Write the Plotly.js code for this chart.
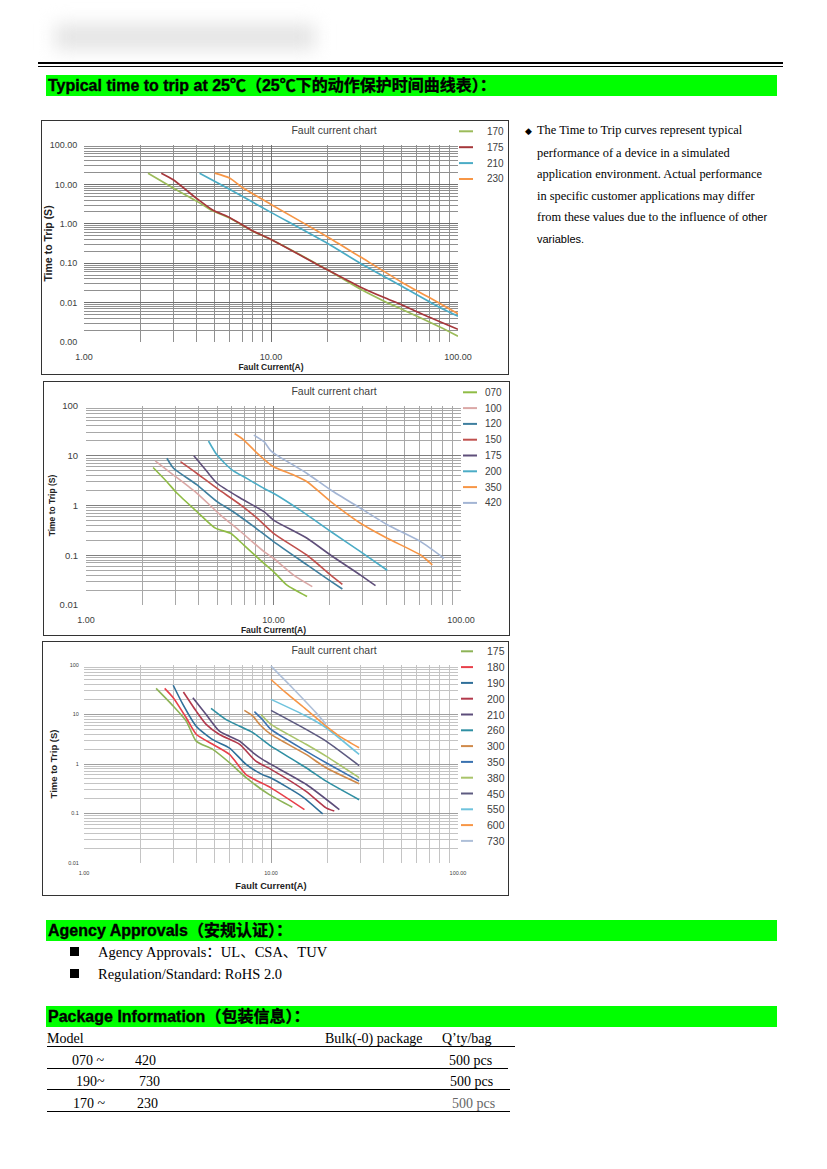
<!DOCTYPE html>
<html>
<head>
<meta charset="utf-8">
<script src="https://cdn.plot.ly/plotly-3.0.1.min.js"></script>
<style>
  body { margin: 0; background: #fff; }
  #page { position: relative; width: 827px; height: 1169px; overflow: hidden; font-family: "Liberation Serif", "Noto Sans CJK SC", serif; color: #000; }
  .abs { position: absolute; white-space: nowrap; }
  .bar { position: absolute; left: 46px; width: 731px; height: 21px; background: #00ff00; font: bold 16px "Liberation Sans", "Noto Sans CJK SC", sans-serif; line-height: 22px; padding-left: 2px; box-sizing: border-box; white-space: nowrap; -webkit-text-stroke: 0.35px #000; }
  .chart { position: absolute; border: 1px solid #333; }
  .rule { position: absolute; background: #000; }
  .note { font-size: 12.4px; line-height: 21.6px; }
  .sans { font-family: "Liberation Sans", sans-serif; font-size: 11px; }
  .sq { position: absolute; width: 9px; height: 9px; background: #000; }
  .tbl { font-size: 14px; line-height: 18px; }
</style>
</head>
<body>
<div id="page">
  <!-- faded header smudge -->
  <div class="abs" style="left:55px;top:24px;width:260px;height:26px;background:#e4e4e4;filter:blur(9px);"></div>
  <div class="rule" style="left:38px;top:62px;width:745px;height:2px;"></div>
  <div class="rule" style="left:38px;top:66px;width:745px;height:1px;"></div>
  <div class="bar" style="top:75px;">Typical time to trip at 25℃（25℃下的动作保护时间曲线表）：</div>

  <div id="c1" class="chart" style="left:41px;top:120px;width:466px;height:253px;"></div>
  <div id="c2" class="chart" style="left:43px;top:381px;width:465px;height:253px;"></div>
  <div id="c3" class="chart" style="left:42px;top:641px;width:465px;height:253px;"></div>

  <div class="abs note" style="left:525px;top:120px;">
    <div><span style="display:inline-block;width:12px;font-size:9px;font-family:'DejaVu Sans'">◆</span>The Time to Trip curves represent typical</div>
    <div style="padding-left:12px">performance of a device in a simulated</div>
    <div style="padding-left:12px">application environment. Actual performance</div>
    <div style="padding-left:12px">in specific customer applications may differ</div>
    <div style="padding-left:12px">from these values due to the influence of <span class="sans">other</span></div>
    <div style="padding-left:12px"><span class="sans">variables.</span></div>
  </div>

  <div class="bar" style="top:920px;">Agency Approvals（安规认证）：</div>
  <div class="sq" style="left:70px;top:947px;"></div>
  <div class="abs" style="left:98px;top:943px;font-size:14.5px;line-height:18px;">Agency Approvals：UL、CSA、TUV</div>
  <div class="sq" style="left:70px;top:969px;"></div>
  <div class="abs" style="left:98px;top:965px;font-size:14.5px;line-height:18px;">Regulation/Standard: RoHS 2.0</div>

  <div class="bar" style="top:1006px;">Package Information（包装信息）：</div>
  <div class="abs tbl" style="left:47px;top:1030px;">Model</div>
  <div class="abs tbl" style="left:325px;top:1030px;">Bulk(-0) package</div>
  <div class="abs tbl" style="left:442px;top:1030px;">Q’ty/bag</div>
  <div class="rule" style="left:47px;top:1046px;width:468px;height:1.3px;"></div>
  <div class="abs tbl" style="left:72px;top:1052px;">070 ~</div>
  <div class="abs tbl" style="left:135px;top:1052px;">420</div>
  <div class="abs tbl" style="left:449px;top:1052px;">500 pcs</div>
  <div class="rule" style="left:47px;top:1068px;width:461px;height:1.3px;"></div>
  <div class="abs tbl" style="left:76px;top:1073px;">190~</div>
  <div class="abs tbl" style="left:139px;top:1073px;">730</div>
  <div class="abs tbl" style="left:450px;top:1073px;">500 pcs</div>
  <div class="rule" style="left:47px;top:1089px;width:463px;height:1.3px;"></div>
  <div class="abs tbl" style="left:73px;top:1095px;">170 ~</div>
  <div class="abs tbl" style="left:137px;top:1095px;">230</div>
  <div class="abs tbl" style="left:452px;top:1095px;color:#666;">500 pcs</div>
  <div class="rule" style="left:47px;top:1111px;width:463px;height:1.3px;"></div>
</div>

<script>
// ---- chart 1 : 170 / 175 / 210 / 230 ----
const c1Names = ['170', '175', '210', '230'];
const c1Colors = ['#9bbb59', '#a5373b', '#4bacc6', '#f79646'];
const c1X = [
  [2.2, 3.0, 4.15, 4.9, 6.0, 8.0, 10, 20, 30, 40, 50, 80, 100],
  [2.59, 3.0, 3.98, 4.9, 6.0, 8.0, 10, 20, 30, 40, 50, 65, 100],
  [4.15, 6.0, 10, 20, 30, 50, 80, 100],
  [5.0, 6.0, 7.1, 10, 20, 30, 50, 80, 100]
];
const c1Y = [
  [19.3, 8.1, 3.4, 2.1, 1.4, 0.65, 0.40, 0.068, 0.022, 0.011, 0.0068, 0.0024, 0.0014],
  [19.3, 13.1, 4.5, 2.2, 1.45, 0.66, 0.40, 0.068, 0.025, 0.0136, 0.0088, 0.005, 0.0021],
  [19.3, 7.5, 1.95, 0.32, 0.1, 0.026, 0.0075, 0.0045],
  [19.3, 14.5, 8.1, 3.1, 0.47, 0.145, 0.033, 0.0095, 0.0052]
];
const c1XTicks = ['1.00', '10.00', '100.00'];
const c1YTicks = ['0.00', '0.01', '0.10', '1.00', '10.00', '100.00'];

// ---- chart 2 : 070 ... 420 ----
const c2Names = ['070', '100', '120', '150', '175', '200', '350', '420'];
const c2Colors = ['#8fbc45', '#dba8a6', '#3f7f9f', '#c0504d', '#5f4f7a', '#4bacc6', '#f79646', '#a3b5d4'];
const c2X = [
  [2.28, 2.7, 3.06, 3.91, 4.9, 5.9, 6.95, 8.5, 10, 11.8, 15.1],
  [2.34, 2.93, 3.91, 5.2, 6.67, 8.9, 10, 12.8, 16.1],
  [2.7, 2.93, 3.91, 5.0, 6.1, 7.86, 10, 15.1, 19.7, 23.3],
  [3.19, 3.91, 5.0, 6.67, 8.2, 10, 15.1, 20.2, 23.3],
  [3.76, 4.42, 5.0, 6.67, 8.9, 10, 15.1, 20.2, 29.1, 35.0],
  [4.5, 5.0, 6.0, 7.2, 8.9, 10, 15.1, 20.2, 29.1, 40.4],
  [6.2, 6.95, 8.2, 10, 12.8, 15.1, 20.2, 29.1, 40.4, 60.9, 70.3],
  [7.85, 8.9, 9.6, 10.4, 15.1, 20.2, 29.1, 40.4, 60.9, 81.2]
];
const c2Y = [
  [5.8, 3.0, 1.76, 0.75, 0.35, 0.276, 0.16, 0.08, 0.047, 0.025, 0.0148],
  [7.85, 4.1, 1.76, 0.65, 0.30, 0.118, 0.087, 0.04, 0.0234],
  [8.9, 5.6, 2.6, 1.2, 0.75, 0.376, 0.188, 0.064, 0.032, 0.021],
  [7.6, 4.4, 2.2, 1.03, 0.55, 0.276, 0.1, 0.04, 0.026],
  [10, 4.8, 2.8, 1.4, 0.75, 0.51, 0.22, 0.1, 0.04, 0.0245],
  [19.8, 10.3, 5.2, 3.5, 2.2, 1.76, 0.65, 0.30, 0.118, 0.05],
  [28, 20.7, 11.2, 6.0, 4.1, 3.0, 1.2, 0.44, 0.22, 0.101, 0.064],
  [26, 19.2, 13, 10.3, 4.4, 2.05, 0.88, 0.41, 0.188, 0.087]
];
const c2XTicks = ['1.00', '10.00', '100.00'];
const c2YTicks = ['0.01', '0.1', '1', '10', '100'];

// ---- chart 3 : 175 ... 730 ----
const c3Names = ['175', '180', '190', '200', '210', '260', '300', '350', '380', '450', '550', '600', '730'];
const c3Colors = ['#8db356', '#e8404a', '#2f6f99', '#b3394c', '#5c4d7a', '#2f8fa3', '#d08a4a', '#3a72b0', '#a9c46a', '#5d5a80', '#6fc3dd', '#f79646', '#aebfd8'];
const c3X = [
  [2.43, 3.0, 3.52, 3.98, 4.88, 6.0, 7.36, 9.8, 13.0],
  [2.7, 3.0, 3.52, 3.98, 4.88, 6.0, 7.36, 10, 15.1],
  [3.0, 3.38, 3.98, 4.88, 6.0, 7.36, 9.0, 10, 14.7, 18.9],
  [3.4, 3.98, 4.5, 5.3, 6.8, 8.3, 10, 15.4, 19.7, 21.8],
  [3.82, 4.5, 5.3, 6.8, 8.0, 9.0, 10, 15.4, 23.2],
  [4.78, 5.75, 6.8, 8.0, 10, 15.4, 19.7, 29.6],
  [7.2, 8.0, 8.7, 10, 15.4, 19.7, 29.6],
  [8.15, 9.0, 10, 15.4, 19.7, 29.6],
  [8.85, 10, 15.4, 19.7, 29.6],
  [10, 15.4, 19.7, 29.6],
  [10, 15.4, 19.7, 29.6],
  [10, 12.0, 15.4, 19.7, 23.2, 29.6],
  [10, 13.0, 17.4, 19.7]
];
const c3Y = [
  [33.7, 14.8, 7.4, 2.9, 1.97, 1.06, 0.53, 0.24, 0.134],
  [33.7, 21.8, 8.6, 4.0, 2.5, 1.56, 0.61, 0.33, 0.12],
  [39, 16, 5.8, 3.1, 2.1, 0.98, 0.61, 0.52, 0.22, 0.098],
  [28.5, 11.7, 6.3, 3.95, 2.5, 1.14, 0.78, 0.28, 0.13, 0.112],
  [21.8, 10, 4.6, 2.9, 1.7, 1.24, 0.98, 0.39, 0.12],
  [13.3, 7.9, 5.8, 4.3, 2.3, 0.84, 0.45, 0.19],
  [12.1, 9.3, 6.3, 3.95, 1.56, 0.84, 0.40],
  [11.4, 7.9, 5.0, 1.82, 1.06, 0.45],
  [10, 6.3, 2.5, 1.44, 0.53],
  [12.1, 5.0, 2.9, 0.93],
  [20.2, 9.3, 5.4, 1.56],
  [51, 27.6, 12.7, 5.8, 3.66, 2.13],
  [95, 34.8, 10.9, 6.3]
];
const c3XTicks = ['1.00', '10.00', '100.00'];
const c3YTicks = ['0.01', '0.1', '1', '10', '100'];

const FONT = '"Liberation Sans", Arial, sans-serif';

function decades(lo, hi) {
  const out = [];
  for (let e = lo; e <= hi; e++) out.push(Math.pow(10, e));
  return out;
}
function minors(lo, hi) {
  const out = [];
  for (let e = lo; e < hi; e++) for (let m = 2; m <= 9; m++) out.push(m * Math.pow(10, e));
  return out;
}

function drawChart(id, d, s) {
  const plotW = s.w - s.m.l - s.m.r;
  const plotH = s.h - s.m.t - s.m.b;
  const traces = d.names.map((n, i) => ({
    x: d.xs[i], y: d.ys[i], name: n, type: 'scatter', mode: 'lines',
    line: { color: d.colors[i], width: s.lw, shape: 'spline', smoothing: 0.6 },
    hoverinfo: 'skip'
  }));

  // legend by hand: plotly's own rows are too tall for 13 entries
  const shapes = [];
  const annotations = [];
  d.names.forEach((n, i) => {
    const yp = 1 - (s.leg.y0 + s.leg.step * i - s.m.t) / plotH;
    shapes.push({
      type: 'line', xref: 'paper', yref: 'paper',
      x0: (s.leg.x0 - s.m.l) / plotW, x1: (s.leg.x1 - s.m.l) / plotW, y0: yp, y1: yp,
      line: { color: d.colors[i], width: 2 }
    });
    annotations.push({
      xref: 'paper', yref: 'paper', x: (s.leg.tx - s.m.l) / plotW, y: yp,
      xanchor: 'left', yanchor: 'middle', showarrow: false, text: n,
      font: { family: FONT, size: s.legSize, color: '#404040' }
    });
  });

  const layout = {
    width: s.w, height: s.h,
    margin: s.m,
    paper_bgcolor: '#fff', plot_bgcolor: '#fff',
    showlegend: false,
    title: {
      text: 'Fault current chart', xref: 'container', x: s.titleX / s.w, xanchor: 'center',
      yref: 'container', y: 1 - s.titleY / s.h, yanchor: 'middle',
      font: { family: FONT, size: 10.5, color: '#404040' }
    },
    xaxis: {
      type: 'log', range: [0, 2], tickvals: decades(0, 2), ticktext: d.xTicks,
      ticks: 'outside', ticklen: s.xTickGap, tickcolor: 'rgba(0,0,0,0)',
      tickfont: { family: FONT, size: s.xTickSize, color: '#404040' },
      showgrid: true, gridcolor: s.majorGrid, gridwidth: 1,
      minor: { tickvals: minors(0, 2), showgrid: true, gridcolor: s.minorGrid, gridwidth: 1 },
      zeroline: false, showline: false, fixedrange: true,
      title: { text: 'Fault Current(A)', standoff: s.xTitleGap, font: { family: FONT, size: s.xTitleSize, color: '#222', weight: 'bold' } }
    },
    yaxis: {
      type: 'log', range: [s.yLo, 2], tickvals: decades(s.yLo, 2), ticktext: d.yTicks,
      ticks: 'outside', ticklen: s.yTickGap, tickcolor: 'rgba(0,0,0,0)',
      tickfont: { family: FONT, size: s.yTickSize, color: '#404040' },
      showgrid: true, gridcolor: s.majorGrid, gridwidth: 1,
      minor: { tickvals: minors(s.yLo, 2), showgrid: true, gridcolor: s.minorGrid, gridwidth: 1 },
      zeroline: false, showline: false, fixedrange: true,
      title: { text: 'Time to Trip (S)', standoff: s.yTitleGap, font: { family: FONT, size: s.yTitleSize, color: '#222', weight: 'bold' } }
    },
    shapes: shapes,
    annotations: annotations
  };
  Plotly.newPlot(id, traces, layout, { staticPlot: true, displayModeBar: false });
}

drawChart('c1',
  { names: c1Names, colors: c1Colors, xs: c1X, ys: c1Y, xTicks: c1XTicks, yTicks: c1YTicks },
  { w: 466, h: 253, m: { l: 42, r: 50, t: 24, b: 32, pad: 0 }, lw: 1.7, yLo: -3,
    majorGrid: '#707070', minorGrid: '#909090',
    xTickSize: 9, yTickSize: 9, xTickGap: 6, yTickGap: 4,
    xTitleSize: 8.5, yTitleSize: 10.5, xTitleGap: 1, yTitleGap: 0,
    titleX: 292, titleY: 9.3, legSize: 10,
    leg: { x0: 417, x1: 431, tx: 443, y0: 10.3, step: 15.9 } });

drawChart('c2',
  { names: c2Names, colors: c2Colors, xs: c2X, ys: c2Y, xTicks: c2XTicks, yTicks: c2YTicks },
  { w: 465, h: 253, m: { l: 42, r: 48, t: 24, b: 30, pad: 0 }, lw: 1.6, yLo: -2,
    majorGrid: '#808080', minorGrid: '#a8a8a8',
    xTickSize: 9, yTickSize: 9.5, xTickGap: 6, yTickGap: 5,
    xTitleSize: 8.5, yTitleSize: 8.5, xTitleGap: 1, yTitleGap: 2,
    titleX: 290, titleY: 9.3, legSize: 10,
    leg: { x0: 419, x1: 433, tx: 439, y0: 10.3, step: 15.8 } });

drawChart('c3',
  { names: c3Names, colors: c3Colors, xs: c3X, ys: c3Y, xTicks: c3XTicks, yTicks: c3YTicks },
  { w: 465, h: 253, m: { l: 41, r: 50, t: 23, b: 32, pad: 0 }, lw: 1.6, yLo: -2,
    majorGrid: '#a0a0a0', minorGrid: '#c4c4c4',
    xTickSize: 5.5, yTickSize: 5.5, xTickGap: 4, yTickGap: 3,
    xTitleSize: 9.3, yTitleSize: 9.5, xTitleGap: 7, yTitleGap: 8,
    titleX: 291, titleY: 8.3, legSize: 10.5,
    leg: { x0: 418, x1: 430, tx: 442, y0: 9.3, step: 15.8 } });
</script>
</body>
</html>
